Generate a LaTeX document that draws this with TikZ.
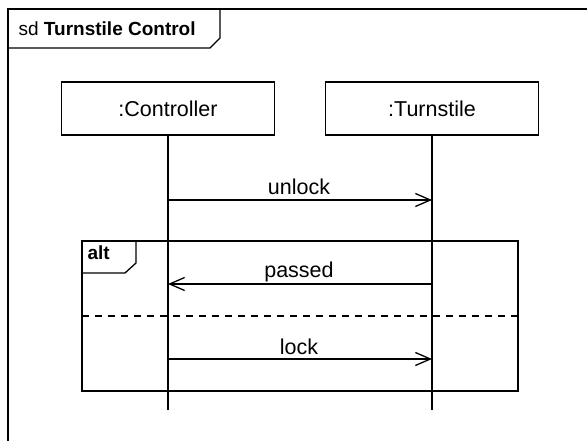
\documentclass[tikz,border=0pt]{standalone}
\usepackage{fontspec}
\setmainfont{Liberation Sans}
\usetikzlibrary{arrows.meta}
\begin{document}
\begin{tikzpicture}[x=1pt,y=-1pt, line width=1.3pt,
  obj/.style={draw, minimum width=213pt, minimum height=53pt, inner sep=0pt, font=\fontsize{21.5}{25}\selectfont},
  msg/.style={-{Straight Barb[length=15pt,width=13pt,line width=1.3pt]}},
  lbl/.style={font=\fontsize{21.5}{25}\selectfont, anchor=base, inner sep=0pt},
  tagtext/.style={anchor=base west, inner sep=0pt, font=\fontsize{19}{22}\selectfont},
  sep/.style={dash pattern=on 7pt off 6pt}]
\useasboundingbox (0,0) rectangle (587,441);
% outer sd frame
\coordinate (fBL) at (8,441);
\coordinate (fTL) at (8,9);
\coordinate (fTR) at (587,9);
\draw (fBL) -- (fTL) -- (fTR);
\coordinate (sdA) at (8,48);
\coordinate (sdB) at (210,48);
\coordinate (sdC) at (220,38);
\coordinate (sdD) at (220,9);
\draw (sdA) -- (sdB) -- (sdC) -- (sdD);
\node[tagtext] (sdlabel) at (18,36) {sd \textbf{Turnstile Control}};
% lifelines
\node[obj] (ctrl) at (168,108.5) {:Controller};
\node[obj] (turn) at (432,108.5) {:Turnstile};
\coordinate (ctrlEnd) at (168,410);
\coordinate (turnEnd) at (432,410);
\draw (ctrl.south) -- (ctrlEnd);
\draw (turn.south) -- (turnEnd);
% alt fragment
\coordinate (altTL) at (82,241);
\coordinate (altBR) at (518,391);
\draw (altTL) rectangle (altBR);
\coordinate (altA) at (82,273);
\coordinate (altB) at (125,273);
\coordinate (altC) at (136,263);
\coordinate (altD) at (136,241);
\draw (altA) -- (altB) -- (altC) -- (altD);
\node[tagtext] (altlabel) at (87,259) {\textbf{alt}};
\coordinate (sepL) at (82,316);
\coordinate (sepR) at (518,316);
\draw[sep] (sepL) -- (sepR);
% messages
\coordinate (c1) at (168,200);
\coordinate (t1) at (432,200);
\coordinate (c2) at (168,284);
\coordinate (t2) at (432,284);
\coordinate (c3) at (168,359);
\coordinate (t3) at (432,359);
\draw[msg] (c1) -- (t1);
\draw[msg] (t2) -- (c2);
\draw[msg] (c3) -- (t3);
\node[lbl] (unlock) at (299,195) {unlock};
\node[lbl] (passed) at (299,277) {passed};
\node[lbl] (lock) at (299,354) {lock};
\end{tikzpicture}
\end{document}
